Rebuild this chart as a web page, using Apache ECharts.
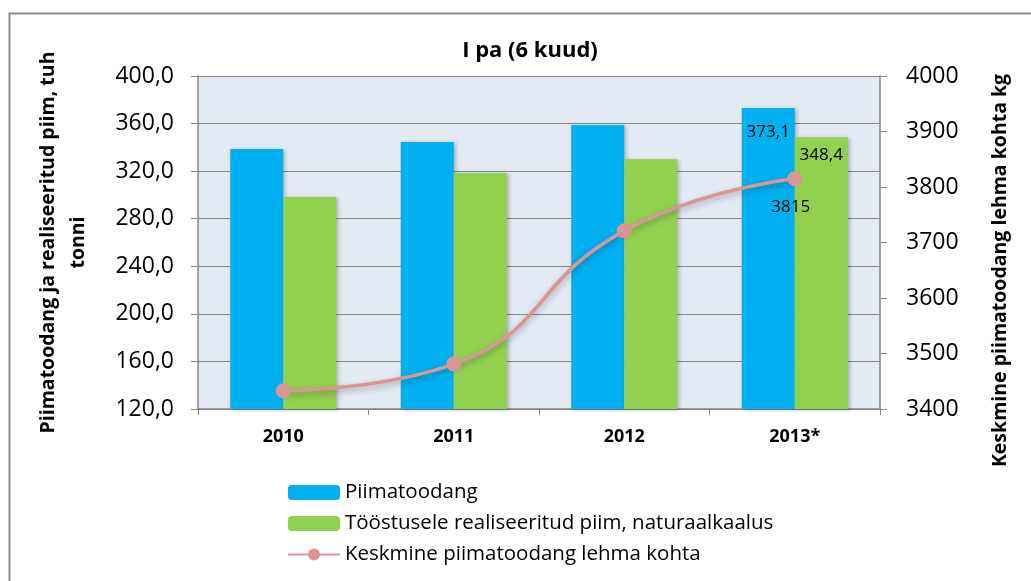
<!DOCTYPE html>
<html>
<head>
<meta charset="utf-8">
<script src="https://cdn.jsdelivr.net/npm/echarts@6/dist/echarts.min.js"></script>
<style>
  html, body { margin: 0; padding: 0; background: #fff; }
  #main { width: 1031px; height: 581px; }
</style>
</head>
<body>
<div id="main"></div>
<script>
// andmed
var years = ["2010", "2011", "2012", "2013*"];
var piimatoodang = [338.7, 344.5, 358.8, 373.1];
var realiseeritud = [298.3, 318.5, 330.0, 348.4];
var keskmine = [3433, 3481, 3721, 3815];
var leftTicks = [120, 400, 40];   // min, max, step
var rightTicks = [3400, 4000, 100];

var FONT = "Open Sans";
var mychart = echarts.init(document.getElementById("main"));

var option = {
    backgroundColor: "#fff",
    color: ["#00B0F0", "#92D050", "#D99694"],
    textStyle: { fontFamily: FONT },
    title: {
        text: "I pa (6 kuud)",
        left: 525,
        textAlign: "center",
        top: 35,
        textStyle: { fontSize: 22, fontWeight: "bold", color: "#000", fontFamily: FONT }
    },
    graphic: [{
        type: "rect",
        shape: { x: 9.5, y: 13.5, width: 1100, height: 640 },
        style: { fill: null, stroke: "#8c8c8c", lineWidth: 2 },
        silent: true
    }],
    legend: {
        orient: "vertical",
        left: 282,
        top: 477,
        itemGap: 10,
        itemWidth: 52,
        itemHeight: 15,
        textStyle: { fontSize: 20.5, color: "#000", fontFamily: FONT },
        data: ["Piimatoodang", "Tööstusele realiseeritud piim, naturaalkaalus", "Keskmine piimatoodang lehma kohta"]
    },
    grid: {
        left: 198,
        right: 151,
        top: 76,
        bottom: 172,
        show: true,
        backgroundColor: "#E4EAF4",
        borderWidth: 0
    },
    xAxis: {
        type: "category",
        data: years,
        axisLine: { lineStyle: { color: "#868686", width: 1.5 } },
        axisTick: { show: true, length: 6, lineStyle: { color: "#868686" } },
        axisLabel: { fontSize: 18, fontWeight: "bold", color: "#000", margin: 19, fontFamily: FONT }
    },
    yAxis: [{
        type: "value",
        min: leftTicks[0],
        max: leftTicks[1],
        interval: leftTicks[2],
        name: "Piimatoodang ja realiseeritud piim, tuh\ntonni",
        nameLocation: "middle",
        nameRotate: 90,
        nameGap: 105,
        nameTextStyle: { fontSize: 19.5, fontWeight: "bold", color: "#000", lineHeight: 30, fontFamily: FONT },
        axisLine: { show: true, lineStyle: { color: "#868686", width: 1.5 } },
        axisTick: { show: true, length: 7, lineStyle: { color: "#868686" } },
        axisLabel: {
            fontSize: 23, color: "#000", margin: 24, fontFamily: FONT,
            formatter: function (v) { return v.toFixed(1).replace(".", ","); }
        },
        splitLine: { lineStyle: { color: "#868686", width: 1.2 } }
    }, {
        type: "value",
        min: rightTicks[0],
        max: rightTicks[1],
        interval: rightTicks[2],
        position: "right",
        name: "Keskmine piimatoodang lehma kohta kg",
        nameLocation: "middle",
        nameRotate: 90,
        nameGap: 110,
        nameTextStyle: { fontSize: 19.5, fontWeight: "bold", color: "#000", fontFamily: FONT, padding: [0, 56, 0, 0] },
        axisLine: { show: true, lineStyle: { color: "#868686", width: 1.5 } },
        axisTick: { show: true, length: 7, lineStyle: { color: "#868686" } },
        axisLabel: {
            fontSize: 23, color: "#000", margin: 26, fontFamily: FONT,
            formatter: function (v) { return String(v); }
        },
        splitLine: { show: false }
    }],
    series: [{
        name: "Piimatoodang",
        type: "bar",
        barWidth: 53,
        barGap: "0%",
        data: piimatoodang,
        itemStyle: { shadowBlur: 4, shadowColor: "rgba(0,0,0,0.25)", shadowOffsetX: 2, shadowOffsetY: 1 },
        label: {
            show: true,
            position: "insideTop",
            distance: 16,
            fontSize: 17,
            color: "#000",
            fontFamily: FONT,
            formatter: function (p) { return p.dataIndex === 3 ? p.value.toFixed(1).replace(".", ",") : ""; }
        }
    }, {
        name: "Tööstusele realiseeritud piim, naturaalkaalus",
        type: "bar",
        barWidth: 53,
        data: realiseeritud,
        itemStyle: { shadowBlur: 4, shadowColor: "rgba(0,0,0,0.25)", shadowOffsetX: 2, shadowOffsetY: 1 },
        label: {
            show: true,
            position: "insideTop",
            distance: 9,
            fontSize: 17,
            color: "#000",
            fontFamily: FONT,
            formatter: function (p) { return p.dataIndex === 3 ? p.value.toFixed(1).replace(".", ",") : ""; }
        }
    }, {
        name: "Keskmine piimatoodang lehma kohta",
        type: "line",
        yAxisIndex: 1,
        smooth: 0.5,
        data: keskmine,
        symbol: "circle",
        symbolSize: 15,
        lineStyle: { width: 3.5, color: "#D99694", shadowBlur: 6, shadowColor: "rgba(0,0,0,0.3)", shadowOffsetY: 3 },
        itemStyle: { color: "#D99694" },
        label: {
            show: true,
            position: "bottom",
            distance: 12,
            offset: [-4, 0],
            fontSize: 17,
            color: "#000",
            fontFamily: FONT,
            formatter: function (p) { return p.dataIndex === 3 ? String(p.value) : ""; }
        },
        z: 5
    }]
};

mychart.setOption(option);
</script>
</body>
</html>
